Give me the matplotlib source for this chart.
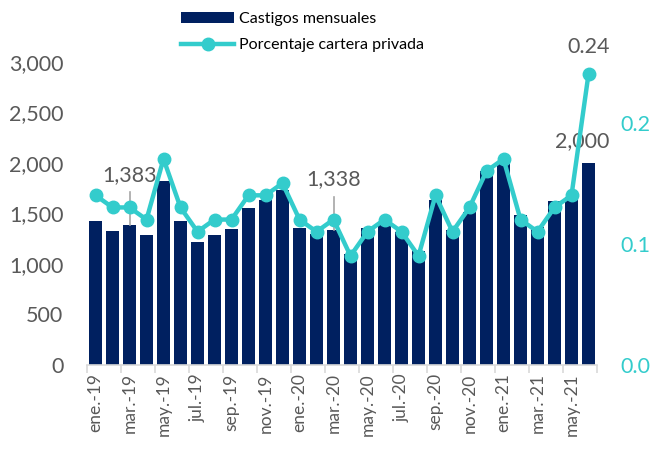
import matplotlib
matplotlib.use("Agg")
import matplotlib.pyplot as plt
from matplotlib.ticker import FuncFormatter

months = ["ene.-19", "feb.-19", "mar.-19", "abr.-19", "may.-19", "jun.-19",
          "jul.-19", "ago.-19", "sep.-19", "oct.-19", "nov.-19", "dic.-19",
          "ene.-20", "feb.-20", "mar.-20", "abr.-20", "may.-20", "jun.-20",
          "jul.-20", "ago.-20", "sep.-20", "oct.-20", "nov.-20", "dic.-20",
          "ene.-21", "feb.-21", "mar.-21", "abr.-21", "may.-21", "jun.-21"]
castigos = [1427, 1327, 1383, 1283, 1817, 1423, 1217, 1283, 1350, 1553,
            1633, 1733, 1360, 1300, 1338, 1100, 1360, 1400, 1317, 1130,
            1633, 1333, 1517, 1917, 2020, 1483, 1367, 1623, 1667, 2000]
porcentaje = [0.14, 0.13, 0.13, 0.12, 0.17, 0.13, 0.11, 0.12, 0.12, 0.14,
              0.14, 0.15, 0.12, 0.11, 0.12, 0.09, 0.11, 0.12, 0.11, 0.09,
              0.14, 0.11, 0.13, 0.16, 0.17, 0.12, 0.11, 0.13, 0.14, 0.24]
left_ticks = [0, 500, 1000, 1500, 2000, 2500, 3000]
right_ticks = [0.0, 0.1, 0.2]
bar_labels = {2: "1,383", 14: "1,338", 29: "2,000"}

plt.rcParams['font.family'] = ['Lato', 'DejaVu Sans']
BAR = "#002060"
LINE = "#33CCCC"
GRAY = "#595959"

fig = plt.figure(figsize=(6.51, 4.51), dpi=100)
ax = fig.add_axes([87/651, 1-365/451, 510/651, (365-62)/451])
x = list(range(len(months)))
bars = ax.bar(x, castigos, width=0.72, color=BAR, label="Castigos mensuales", zorder=2)
ax.set_xlim(-0.5, len(months)-0.5)
ax.set_ylim(0, 3000)
ax.set_yticks(left_ticks)
ax.yaxis.set_major_formatter(FuncFormatter(lambda v, p: f"{int(v):,}"))
ax.tick_params(axis='y', length=0, labelsize=15.5, labelcolor=GRAY, pad=17)
for s in ["top", "right", "left"]:
    ax.spines[s].set_visible(False)
ax.spines["bottom"].set_color("#d9d9d9")
ax.spines["bottom"].set_linewidth(1.2)

ax.set_xticks([i for i in x if i % 2 == 0])
ax.set_xticklabels([months[i] for i in x if i % 2 == 0], rotation=90, fontsize=12.5, color=GRAY)
ax.tick_params(axis='x', length=0, pad=6)
ax.set_xticks([i - 0.5 for i in x if i % 2 == 0] + [len(months)-0.5], minor=True)
ax.tick_params(axis='x', which='minor', length=6, color="#d9d9d9", width=1.2)

for i, txt in bar_labels.items():
    v = castigos[i]
    if i != 29:
        ax.plot([i, i], [v, v + 330], color="#a6a6a6", lw=1.2, zorder=3)
        ax.text(i, v + 400, txt, ha="center", va="bottom", fontsize=15.5, color=GRAY, zorder=5)
    else:
        ax.text(i - 0.4, v + 120, txt, ha="center", va="bottom", fontsize=15.5, color=GRAY, zorder=5)

ax2 = ax.twinx()
ax2.plot(x, porcentaje, color=LINE, lw=3.2, marker="o", markersize=9,
         label="Porcentaje cartera privada", zorder=4)
ax2.set_ylim(0, 0.25)
ax2.set_yticks(right_ticks)
ax2.yaxis.set_major_formatter(FuncFormatter(lambda v, p: f"{v:.1f}"))
ax2.tick_params(axis='y', length=0, labelsize=15.5, labelcolor=LINE, pad=17)
for s in ["top", "right", "left", "bottom"]:
    ax2.spines[s].set_visible(False)
ax2.text(x[-1], porcentaje[-1] + 0.014, f"{porcentaje[-1]:.2f}", ha="center", va="bottom",
         fontsize=15.5, color=GRAY)

h1, l1 = ax.get_legend_handles_labels()
h2, l2 = ax2.get_legend_handles_labels()
fig.legend(h1 + h2, l1 + l2, loc="upper left", bbox_to_anchor=(167/651, 1.005),
           frameon=False, fontsize=11.5, handlelength=3.3, handletextpad=0.3,
           labelspacing=0.75)

fig.savefig("out.png", dpi=100)
